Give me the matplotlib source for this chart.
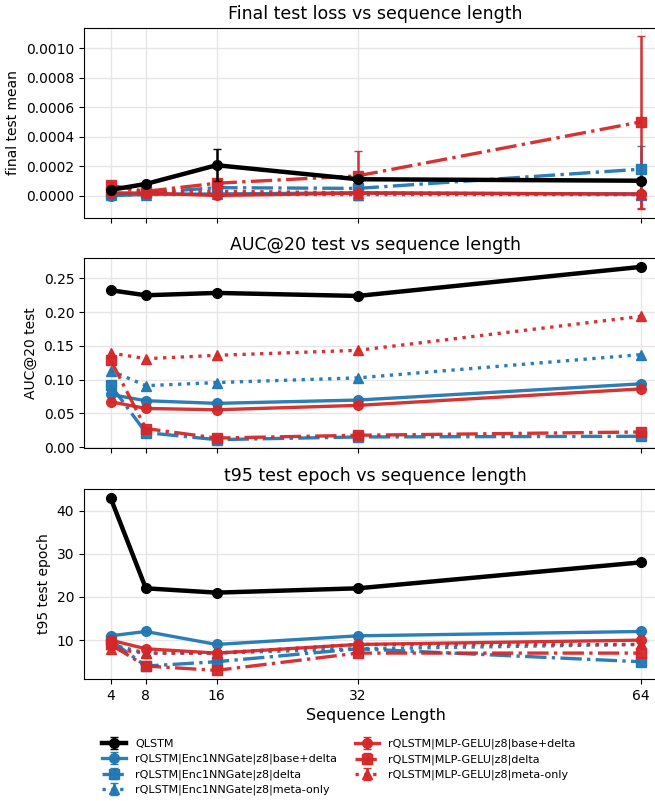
import matplotlib
matplotlib.use("Agg")
import matplotlib.pyplot as plt

seq_len = [4, 8, 16, 32, 64]

names = [
    "QLSTM",
    "rQLSTM|Enc1NNGate|z8|base+delta",
    "rQLSTM|Enc1NNGate|z8|delta",
    "rQLSTM|Enc1NNGate|z8|meta-only",
    "rQLSTM|MLP-GELU|z8|base+delta",
    "rQLSTM|MLP-GELU|z8|delta",
    "rQLSTM|MLP-GELU|z8|meta-only",
]

# final test loss (mean, std)
loss_mean = [
    [0.00004, 0.00008, 0.000207, 0.000112, 0.000102],
    [0.000000, 0.000010, 0.000012, 0.000020, 0.000012],
    [0.000010, 0.000020, 0.000055, 0.000050, 0.000180],
    [0.000005, 0.000008, 0.000010, 0.000008, 0.000008],
    [0.000020, 0.000018, 0.000002, 0.000018, 0.000012],
    [0.000070, 0.000030, 0.000085, 0.000135, 0.000500],
    [0.000060, 0.000025, 0.000030, 0.000020, 0.000010],
]
loss_std = [
    [0.00001, 0.00001, 0.00011, 0.00001, 0.00002],
    [0.00001, 0.00001, 0.00001, 0.00001, 0.00001],
    [0.00001, 0.00001, 0.00001, 0.00005, 0.000155],
    [0.00001, 0.00001, 0.00001, 0.00001, 0.00001],
    [0.00001, 0.00001, 0.00001, 0.00001, 0.00001],
    [0.00002, 0.00001, 0.00003, 0.000165, 0.00058],
    [0.00002, 0.00001, 0.00001, 0.00001, 0.00010],
]

auc20 = [
    [0.2325, 0.225, 0.2285, 0.224, 0.267],
    [0.078, 0.0687, 0.0648, 0.0697, 0.0937],
    [0.092, 0.0215, 0.011, 0.015, 0.016],
    [0.1135, 0.091, 0.0956, 0.1026, 0.137],
    [0.0672, 0.0573, 0.0553, 0.0618, 0.0862],
    [0.1295, 0.0275, 0.0134, 0.0175, 0.0224],
    [0.1395, 0.131, 0.136, 0.1434, 0.1937],
]

t95 = [
    [43, 22, 21, 22, 28],
    [11, 12, 9, 11, 12],
    [10, 4, 5, 8, 5],
    [9, 7, 7, 8, 9],
    [10, 8, 7, 9, 10],
    [9, 4, 3, 7, 7],
    [8, 7, 7, 9, 9],
]

colors = ["black", "tab:blue", "tab:blue", "tab:blue", "tab:red", "tab:red", "tab:red"]
styles = ["-", "-", "-.", ":", "-", "-.", ":"]
markers = ["o", "o", "s", "^", "o", "s", "^"]
widths = [3.2, 2.4, 2.4, 2.4, 2.4, 2.4, 2.4]

fig = plt.figure(figsize=(6.55, 8.01), dpi=100)
W, H = 655.0, 801.0
left, right = 84 / W, 667 / W
tops = [27.7, 258.3, 489.0]
h = 190.0
axes = [fig.add_axes([left, 1 - (t + h) / H, right - left, h / H]) for t in tops]


def draw(ax, data, err=None):
    for i in range(len(names)):
        ax.errorbar(seq_len, data[i], yerr=None if err is None else err[i],
                    color=colors[i], linestyle=styles[i], marker=markers[i],
                    markersize=7, linewidth=widths[i], capsize=3,
                    elinewidth=1.8, alpha=0.95 if i else 1.0, label=names[i],
                    zorder=5 if i == 0 else 3)
    ax.grid(True, color="#e6e6e6", linewidth=1)
    ax.set_axisbelow(True)
    ax.set_xticks(seq_len)
    ax.tick_params(labelsize=10)


draw(axes[0], loss_mean, loss_std)
axes[0].set_title("Final test loss vs sequence length", fontsize=12.5)
axes[0].set_ylabel("final test mean", fontsize=10)
axes[0].set_yticks([0, 0.0002, 0.0004, 0.0006, 0.0008, 0.0010])
axes[0].set_yticklabels(["0.0000", "0.0002", "0.0004", "0.0006", "0.0008", "0.0010"])
axes[0].tick_params(labelbottom=False)

draw(axes[1], auc20)
axes[1].set_title("AUC@20 test vs sequence length", fontsize=12.5)
axes[1].set_ylabel("AUC@20 test", fontsize=10)
axes[1].tick_params(labelbottom=False)

draw(axes[2], t95)
axes[2].set_title("t95 test epoch vs sequence length", fontsize=12.5)
axes[2].set_ylabel("t95 test epoch", fontsize=10)
axes[2].set_xlabel("Sequence Length", fontsize=11.5)
axes[2].set_yticks([10, 20, 30, 40])

for ax in axes:
    ax.set_xlim(1, 67)

handles, labels = axes[0].get_legend_handles_labels()
fig.legend(handles, labels, loc="upper left", bbox_to_anchor=(0.14, 0.09),
           ncol=2, frameon=False, fontsize=8, handlelength=2.2,
           columnspacing=1.6, labelspacing=0.45)

fig.savefig("out.png", dpi=100)
